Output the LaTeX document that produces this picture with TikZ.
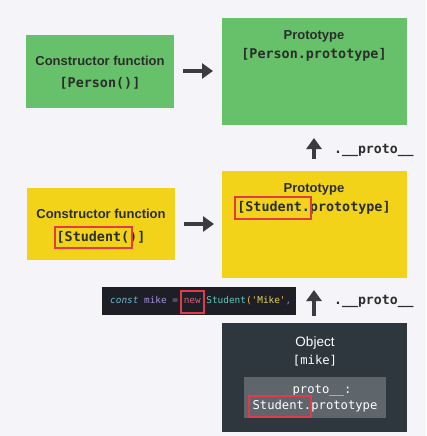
\documentclass[tikz,border=0pt]{standalone}
\usepackage{fontspec}
\setmainfont{Liberation Sans}
\setmonofont{DejaVu Sans Mono}
\usetikzlibrary{arrows.meta}
\definecolor{bg}{RGB}{245,244,248}
\definecolor{grn}{RGB}{103,193,106}
\definecolor{ylw}{RGB}{242,211,26}
\definecolor{drk}{RGB}{46,55,62}
\definecolor{gry}{RGB}{94,102,108}
\definecolor{txt}{RGB}{42,46,42}
\definecolor{redb}{RGB}{226,58,72}
\definecolor{arr}{RGB}{60,60,62}
\definecolor{codebg}{RGB}{30,31,38}
\definecolor{ckw}{RGB}{110,185,205}
\definecolor{cvar}{RGB}{165,145,215}
\definecolor{cop}{RGB}{140,140,200}
\definecolor{cnew}{RGB}{215,95,120}
\definecolor{ccls}{RGB}{95,200,190}
\definecolor{cstr}{RGB}{232,208,96}
\definecolor{cpar}{RGB}{230,190,60}
\begin{document}
\begin{tikzpicture}[x=1pt,y=-1pt,
  title/.style={font=\fontsize{13}{15}\selectfont\bfseries,text=txt,inner sep=0pt},
  code/.style={font=\fontsize{13.4}{15}\selectfont\ttfamily\bfseries,text=txt,inner sep=0pt},
  wtitle/.style={font=\fontsize{13.5}{15}\selectfont,text=white,inner sep=0pt},
  wcode/.style={font=\fontsize{12.2}{14}\selectfont\ttfamily,text=white,inner sep=0pt},
  redbox/.style={draw=redb,line width=2.6pt},
  fatarrow/.style={draw=arr,line width=4pt,-{Triangle[length=11pt,width=15pt]}},
  protolbl/.style={font=\fontsize{13.2}{15}\selectfont\ttfamily\bfseries,text=txt,inner sep=0pt,anchor=west}
]
\fill[bg] (0,0) rectangle (426,436);
\useasboundingbox (0,0) rectangle (426,436);

% green row
\fill[grn] (26,35) rectangle (174,108);
\fill[grn] (222,18) rectangle (407,125);
\node[title] (gct) at (100,61) {Constructor function};
\node[code] (gcc) at (100,83) {[Person()]};
\node[title] (gpt) at (314,36) {Prototype};
\node[code] (gpc) at (314,55) {[Person.prototype]};
\coordinate (a1s) at (183,71);
\coordinate (a1e) at (213,71);
\draw[fatarrow] (a1s) -- (a1e);

% proto arrow 1
\coordinate (u1s) at (314,159);
\coordinate (u1e) at (314,138);
\draw[fatarrow] (u1s) -- (u1e);
\node[protolbl] (l1) at (334,150) {.\_\_proto\_\_};

% yellow row
\fill[ylw] (27,188) rectangle (175,260);
\fill[ylw] (222,171) rectangle (407,278);
\node[title] (yct) at (101,214) {Constructor function};
\node[code] (ycc) at (101,237) {[Student()]};
\node[title] (ypt) at (314,189) {Prototype};
\node[code] (ypc) at (314,208) {[Student.prototype]};
\draw[redbox] (55,227) rectangle (132,248);
\draw[redbox] (235,197) rectangle (311,219);
\coordinate (a2s) at (184,224);
\coordinate (a2e) at (214,224);
\draw[fatarrow] (a2s) -- (a2e);

% code bar
\fill[codebg] (102,287) rectangle (296,315);
\node[inner sep=0pt,anchor=west,font=\fontsize{9.4}{11}\selectfont\ttfamily] (cl) at (110,301)
 {\textcolor{ckw}{\itshape const} \textcolor{cvar}{mike} \textcolor{cop}{=} \textcolor{cnew}{new} \textcolor{ccls}{Student}\textcolor{cpar}{(}\textcolor{cstr}{'Mike'}\textcolor{cop}{,}};
\draw[draw=redb,line width=2.2pt] (181,291) rectangle (204,313);

% proto arrow 2
\coordinate (u2s) at (314,316);
\coordinate (u2e) at (314,290);
\draw[fatarrow] (u2s) -- (u2e);
\node[protolbl] (l2) at (334,301) {.\_\_proto\_\_};

% object
\fill[drk] (222,323) rectangle (407,432);
\node[wtitle] (ot) at (315,343) {Object};
\node[wcode] (om) at (315,361) {[mike]};
\fill[gry] (244,377) rectangle (386,418);
\node[wcode] (op1) at (322,391) {proto\_\_:};
\node[wcode] (op2) at (315,406) {Student.prototype};
\draw[redbox] (249,396) rectangle (311,417);
\end{tikzpicture}
\end{document}
